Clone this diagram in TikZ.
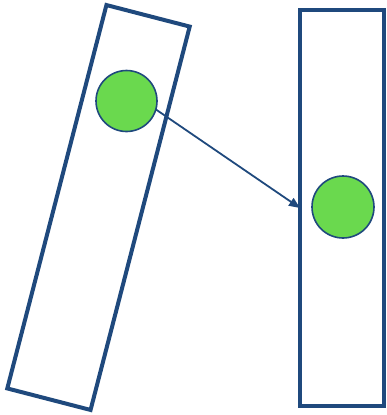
\documentclass[tikz,border=0pt]{standalone}
\usepackage{xcolor}
\usepackage{tikz}
\usetikzlibrary{arrows.meta, positioning}
\definecolor{framebl}{RGB}{31, 73, 125}
\definecolor{ballgreen}{RGB}{106, 217, 78}

\begin{document}
\begin{tikzpicture}[x=1pt, y=1pt,
    slab/.style={draw=framebl, line width=4pt, minimum width=86pt,
                 minimum height=396pt, inner sep=0pt, outer sep=0pt},
    ball/.style={circle, draw=framebl, line width=1.6pt, fill=ballgreen,
                 minimum size=61pt, inner sep=0pt, outer sep=0pt}
]
    \useasboundingbox (0,0) rectangle (386,-415);
    \node[slab, rotate=-14.5] (lbox) at (98.5,-207.5) {};
    \node[slab, minimum width=84pt] (rbox) at (342,-208) {};
    \node[ball] (lball) at (126.5,-101) {};
    \node[ball, minimum size=62pt] (rball) at (343,-207) {};
    \draw[framebl, line width=1.8pt, -{Triangle[length=11pt, width=9pt]}]
        (lball.-16) -- (rbox.west);
\end{tikzpicture}
\end{document}
